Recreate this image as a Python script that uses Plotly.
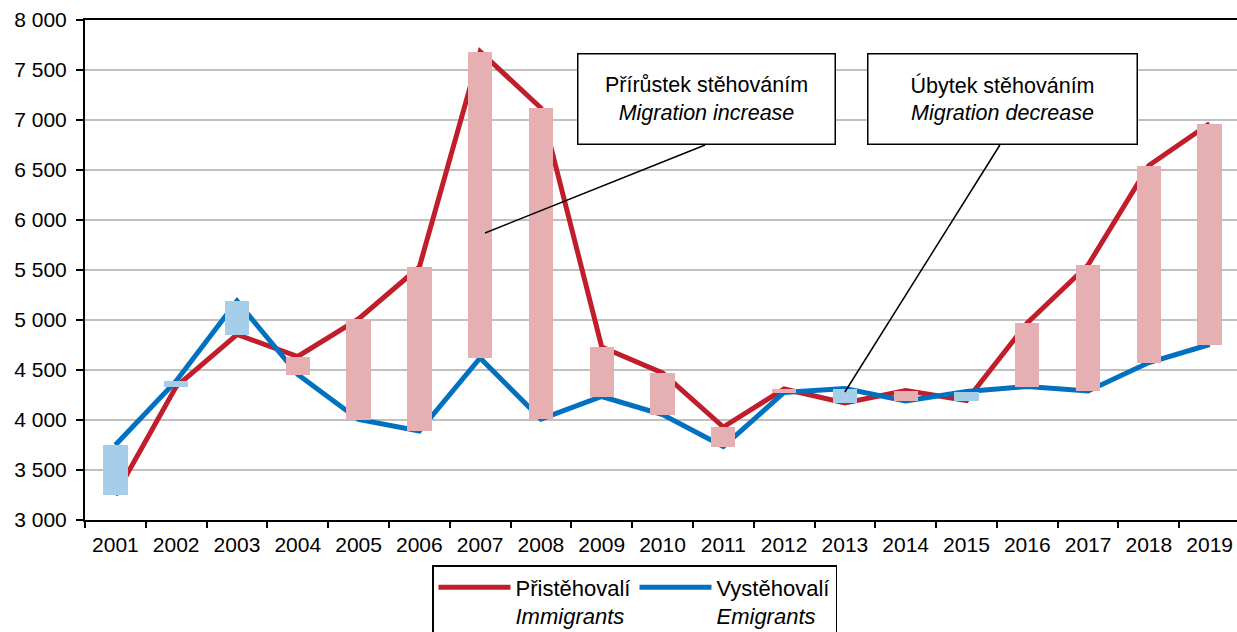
import plotly.graph_objects as go

years = [str(y) for y in range(2001, 2020)]
immigrants = [3250, 4335, 4855, 4635, 5010, 5530, 7685, 7120, 4730, 4470,
              3930, 4310, 4170, 4295, 4195, 4970, 5550, 6545, 6965]
emigrants = [3750, 4390, 5190, 4455, 4005, 3890, 4620, 4010, 4235, 4055,
             3735, 4275, 4315, 4190, 4285, 4335, 4290, 4575, 4755]
ytick_vals = list(range(3000, 8001, 500))
ytick_text = [f"{v // 1000} {v % 1000:03d}" for v in ytick_vals]

RED = "#C01E2B"
BLUE = "#0070C0"
PINK = "#E6AFB2"
LBLUE = "#A6CEE8"
FONT = "Liberation Sans, Arial, sans-serif"

bar_base = [min(i, e) for i, e in zip(immigrants, emigrants)]
bar_len = [abs(i - e) for i, e in zip(immigrants, emigrants)]
bar_col = [PINK if i >= e else LBLUE for i, e in zip(immigrants, emigrants)]

xr = [-0.5, 18.45]
yr = [3000, 8000]

fig = go.Figure()
fig.add_trace(go.Scatter(x=years, y=immigrants, mode="lines",
                         line=dict(color=RED, width=5),
                         name="Přistěhovalí<br><i>Immigrants</i>"))
fig.add_trace(go.Scatter(x=years, y=emigrants, mode="lines",
                         line=dict(color=BLUE, width=5),
                         name="Vystěhovalí<br><i>Emigrants</i>"))
fig.add_trace(go.Bar(x=years, y=bar_len, base=bar_base, width=0.4,
                     marker=dict(color=bar_col, line=dict(width=0)),
                     xaxis="x2", yaxis="y2", showlegend=False))

fig.update_layout(
    width=1237, height=632,
    margin=dict(l=85, r=0, t=20, b=112),
    paper_bgcolor="white", plot_bgcolor="white",
    font=dict(family=FONT, size=21, color="black"),
    showlegend=True,
    xaxis=dict(type="category", range=xr, showline=True, linecolor="black",
               linewidth=2, mirror=True, ticks="outside", tickson="boundaries",
               ticklen=6, tickwidth=2, tickcolor="black", showgrid=False,
               tickfont=dict(size=21), ticklabelstandoff=5),
    yaxis=dict(range=yr, tickvals=ytick_vals, ticktext=ytick_text,
               showline=True, linecolor="black", linewidth=2,
               ticks="outside", ticklen=7, tickwidth=2, tickcolor="black",
               showgrid=True, gridcolor="#C0C0C0", gridwidth=2,
               zeroline=False, tickfont=dict(size=21), ticklabelstandoff=5),
    xaxis2=dict(type="category", range=xr, overlaying="x", visible=False,
                showgrid=False),
    yaxis2=dict(range=yr, overlaying="y", visible=False, showgrid=False),
    legend=dict(orientation="h", xref="container", yref="container",
                x=432 / 1237, y=1 - 565 / 632, xanchor="left", yanchor="top",
                bordercolor="black", borderwidth=1.5, bgcolor="white",
                font=dict(size=22), valign="top", itemwidth=72,
                entrywidth=114, entrywidthmode="pixels"),
    bargap=0,
)

fig.add_annotation(xref="paper", yref="paper",
                   x=(706 - 85) / 1152, y=(520 - 98.5) / 500,
                   xanchor="center", yanchor="middle",
                   text="Přírůstek stěhováním<br><i>Migration increase</i>",
                   showarrow=False, font=dict(size=21.5),
                   width=250, height=83, borderpad=3, borderwidth=1.5,
                   bordercolor="black", bgcolor="white")
fig.add_annotation(xref="paper", yref="paper",
                   x=(1002 - 85) / 1152, y=(520 - 98.5) / 500,
                   xanchor="center", yanchor="middle",
                   text="Úbytek stěhováním<br><i>Migration decrease</i>",
                   showarrow=False, font=dict(size=21.5),
                   width=262, height=83, borderpad=3, borderwidth=1.5,
                   bordercolor="black", bgcolor="white")

fig.add_shape(type="line", xref="x", yref="y", x0=9.7, y0=6750, x1=6.08, y1=5870,
              line=dict(color="black", width=1.5))
fig.add_shape(type="line", xref="x", yref="y", x0=14.55, y0=6750, x1=12.0, y1=4280,
              line=dict(color="black", width=1.5))

fig.write_html("out.html", config={"displayModeBar": False},
               post_script="document.body.style.margin='0';"
                           "document.body.style.overflow='hidden';")
